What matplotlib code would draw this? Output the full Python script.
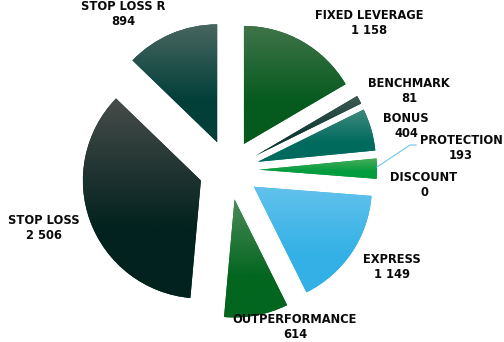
import numpy as np
import matplotlib.pyplot as plt
from matplotlib.colors import to_rgb

names = ['FIXED LEVERAGE', 'BENCHMARK', 'BONUS', 'PROTECTION', 'DISCOUNT',
         'EXPRESS', 'OUTPERFORMANCE', 'STOP LOSS', 'STOP LOSS R']
values = [1158, 81, 404, 193, 0, 1149, 614, 2506, 894]
value_labels = ['1 158', '81', '404', '193', '0', '1 149', '614', '2 506', '894']

# (top colour, bottom colour) of the vertical gradient on each slice
top_colors = ['#3f7449', '#3f5a53', '#3f8a7c', '#4aae5a', '#4aae5a',
              '#62c2ec', '#4a8a58', '#474c4a', '#4a6660']
base_colors = ['#055a1e', '#0f3a33', '#006a5e', '#009c3e', '#009c3e',
               '#33b0e6', '#03661f', '#02221e', '#023f39']

# label block centres in pixels (x, y from top)
label_pos = [(369, 23), (409, 91), (406, 126), (461, 148), (424, 185),
             (392, 267), (295, 327), (44, 228), (123, 14)]

W, H = 504, 342
fig = plt.figure(figsize=(W / 100, H / 100), dpi=100)
ax = fig.add_axes([0, 0, 1, 1])

wedges, _ = ax.pie(values, center=(229, H - 170), radius=118,
                   explode=[30] * len(values), startangle=90,
                   counterclock=False, frame=True,
                   wedgeprops=dict(linewidth=0, edgecolor='none'))
ax.set_xlim(0, W)
ax.set_ylim(0, H)
ax.set_aspect('equal')
ax.axis('off')


def gradient_fill(w, top, base):
    verts = w.get_patch_transform().transform(w.get_path().vertices)
    x0, y0 = verts.min(axis=0)
    x1, y1 = verts.max(axis=0)
    if x1 - x0 < 0.5:
        return
    n = 200
    t = np.linspace(0, 1, n)  # 0 = top
    t = np.clip(t / 0.65, 0, 1)[:, None]
    c0 = np.array(to_rgb(top))
    c1 = np.array(to_rgb(base))
    img = (c0 * (1 - t) + c1 * t)[:, None, :]
    w.set_facecolor(base)
    im = ax.imshow(img, extent=(x0, x1, y0, y1), origin='upper',
                   aspect='auto', interpolation='bilinear', zorder=2)
    im.set_clip_path(w)


for w, tc, bc in zip(wedges, top_colors, base_colors):
    gradient_fill(w, tc, bc)

for name, lab, (px, py) in zip(names, value_labels, label_pos):
    ax.text(px, H - py, name + '\n' + lab, ha='center', va='center',
            fontsize=8.3, fontweight='bold', color='#0a0a0a',
            linespacing=1.25, family='DejaVu Sans', zorder=5)

# leader line for PROTECTION
ax.plot([377, 410, 416], [H - 167, H - 145, H - 145], color='#6cc8ea',
        linewidth=0.8, zorder=4)

fig.savefig('out.png', dpi=100)
